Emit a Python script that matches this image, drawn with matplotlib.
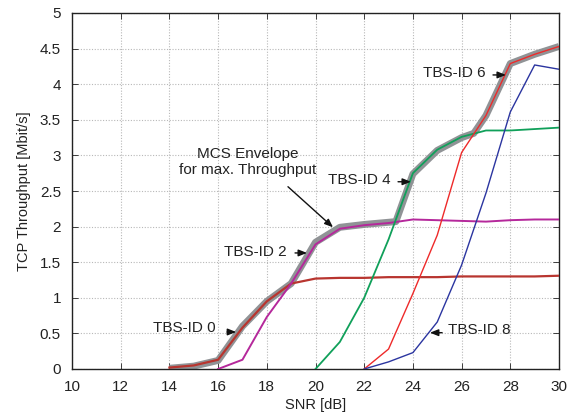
import matplotlib
matplotlib.use("Agg")
import matplotlib.pyplot as plt
import numpy as np

plt.rcParams['font.family'] = ['Liberation Sans', 'DejaVu Sans']

# Data (SNR in dB, TCP throughput in Mbit/s)
snr_tbs0 = [14, 15, 16, 17, 18, 19, 20, 21, 22, 23, 24, 25, 26, 27, 28, 29, 30]
tp_tbs0 = [0.02, 0.05, 0.13, 0.58, 0.95, 1.2, 1.27, 1.28, 1.28, 1.29, 1.29, 1.29, 1.3, 1.3, 1.3, 1.3, 1.31]

snr_tbs2 = [16, 17, 18, 19, 20, 21, 22, 23, 24, 25, 26, 27, 28, 29, 30]
tp_tbs2 = [0.0, 0.13, 0.73, 1.2, 1.75, 1.97, 2.02, 2.05, 2.1, 2.09, 2.08, 2.07, 2.09, 2.1, 2.1]

snr_tbs4 = [20, 21, 22, 23, 24, 25, 26, 27, 28, 29, 30]
tp_tbs4 = [0.0, 0.38, 1.0, 1.82, 2.75, 3.08, 3.26, 3.35, 3.35, 3.37, 3.39]

snr_tbs6 = [22, 23, 24, 25, 26, 27, 28, 29, 30]
tp_tbs6 = [0.0, 0.28, 1.06, 1.88, 3.04, 3.56, 4.29, 4.42, 4.53]

snr_tbs8 = [22, 23, 24, 25, 26, 27, 28, 29, 30]
tp_tbs8 = [0.0, 0.1, 0.23, 0.66, 1.46, 2.47, 3.61, 4.27, 4.21]

snr_env = [14, 15, 16, 17, 18, 19, 20, 21, 22, 23.3, 24, 25, 26, 26.5, 27, 28, 29, 30]
tp_env = [0.01, 0.04, 0.12, 0.6, 0.95, 1.2, 1.78, 1.99, 2.03, 2.07, 2.74, 3.07, 3.25, 3.31, 3.56, 4.29, 4.42, 4.53]

x_ticks = [10, 12, 14, 16, 18, 20, 22, 24, 26, 28, 30]
y_ticks = [0, 0.5, 1, 1.5, 2, 2.5, 3, 3.5, 4, 4.5, 5]
y_ticklabels = ['0', '0.5', '1', '1.5', '2', '2.5', '3', '3.5', '4', '4.5', '5']

fig = plt.figure(figsize=(5.70, 4.17), dpi=100)
ax = fig.add_axes([72/570, 1-369/417, (559-72)/570, (369-13)/417])

ax.plot(snr_env, tp_env, color='#8a8d90', lw=5.0, solid_joinstyle='round', solid_capstyle='butt', zorder=2, alpha=0.95)
ax.plot(snr_tbs0, tp_tbs0, color='#b8352f', lw=1.6, zorder=3)
ax.plot(snr_tbs2, tp_tbs2, color='#b5289b', lw=1.4, zorder=3)
ax.plot(snr_tbs4, tp_tbs4, color='#10a05a', lw=1.3, zorder=3)
ax.plot(snr_tbs6, tp_tbs6, color='#ee2a2a', lw=1.0, zorder=3)
ax.plot(snr_tbs8, tp_tbs8, color='#2b35a0', lw=1.0, zorder=3)

ax.set_xlim(10, 30)
ax.set_ylim(0, 5)
ax.set_xticks(x_ticks)
ax.set_yticks(y_ticks)
ax.set_yticklabels(y_ticklabels)
ax.tick_params(direction='in', length=4, width=0.6, labelsize=11, top=True, right=True, pad=8, colors='#222222')
ax.tick_params(axis='y', pad=8)
ax.grid(True, color='#b8b8b8', linestyle=(0, (1, 1.5)), linewidth=0.8)
for s in ax.spines.values():
    s.set_linewidth(1.0)
    s.set_color('#222222')

ax.set_xlabel('SNR [dB]', fontsize=10.5, labelpad=3, color='#222222')
ax.set_ylabel('TCP Throughput [Mbit/s]', fontsize=10.5, labelpad=6, color='#222222')

tfs = 11
arrow = dict(arrowstyle='-|>,head_length=0.5,head_width=0.2', color='#111111', lw=1.0, shrinkA=0, shrinkB=0)

ax.text(14.6, 0.58, 'TBS-ID 0', fontsize=tfs, ha='center', va='center', color='#222222')
ax.annotate('', xy=(16.74, 0.52), xytext=(16.37, 0.52), arrowprops=arrow)

ax.text(17.52, 1.64, 'TBS-ID 2', fontsize=tfs, ha='center', va='center', color='#222222')
ax.annotate('', xy=(19.65, 1.63), xytext=(19.16, 1.63), arrowprops=arrow)

ax.text(21.81, 2.65, 'TBS-ID 4', fontsize=tfs, ha='center', va='center', color='#222222')
ax.annotate('', xy=(23.92, 2.63), xytext=(23.39, 2.63), arrowprops=arrow)

ax.text(25.71, 4.16, 'TBS-ID 6', fontsize=tfs, ha='center', va='center', color='#222222')
ax.annotate('', xy=(27.82, 4.13), xytext=(27.29, 4.13), arrowprops=arrow)

ax.text(26.73, 0.55, 'TBS-ID 8', fontsize=tfs, ha='center', va='center', color='#222222')
ax.annotate('', xy=(24.70, 0.51), xytext=(25.2, 0.51), arrowprops=arrow)

ax.text(17.23, 2.91, 'MCS Envelope\nfor max. Throughput', fontsize=tfs, ha='center', va='center',
        color='#222222', linespacing=1.2)
ax.annotate('', xy=(20.72, 1.99), xytext=(18.87, 2.56), arrowprops=arrow)

fig.savefig('out.png', dpi=100)
